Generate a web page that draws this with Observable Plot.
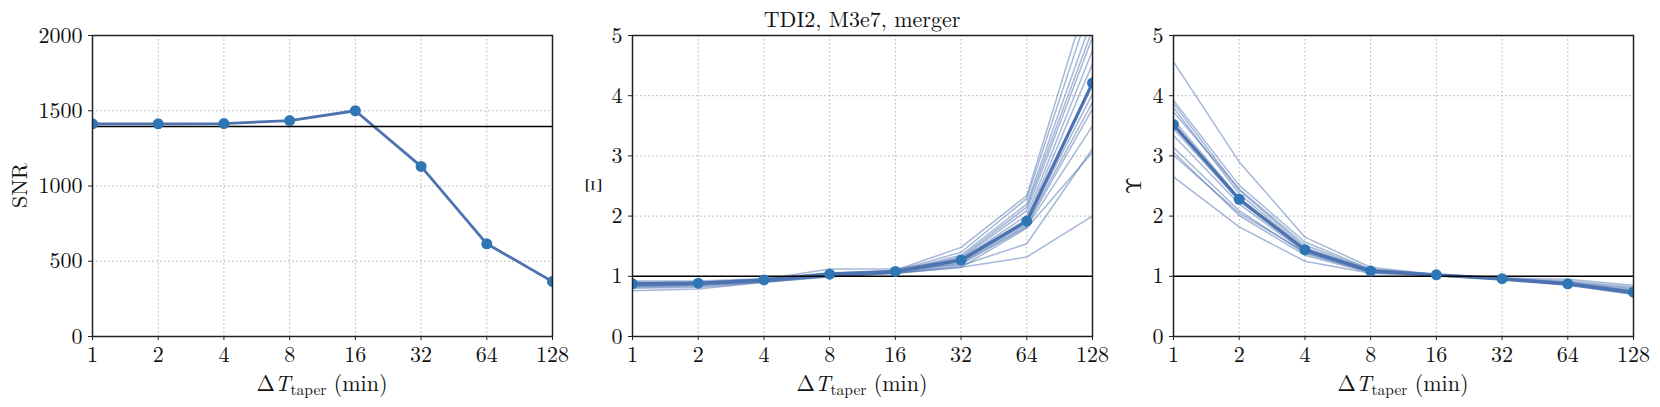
<!DOCTYPE html>
<html>
<head>
<meta charset="utf-8">
<script src="https://cdn.jsdelivr.net/npm/d3@7"></script>
<script src="https://cdn.jsdelivr.net/npm/@observablehq/plot@0.6"></script>
<style>
  html, body { margin: 0; padding: 0; background: #fff; }
  #wrap { position: relative; width: 1660px; height: 407px; overflow: hidden; }
  .panel { position: absolute; top: 0; }
</style>
</head>
<body>
<div id="wrap"></div>
<script>
// ---------- data ----------
const taper = [1, 2, 4, 8, 16, 32, 64, 128];
const snrTicks = [0, 500, 1000, 1500, 2000];
const ratioTicks = [0, 1, 2, 3, 4, 5];

const snr = [1413, 1413, 1415, 1435, 1500, 1130, 616, 365];
const snrRef = 1395;

const xiMain = [0.875, 0.885, 0.94, 1.035, 1.08, 1.27, 1.915, 4.21];
const xiRuns = [
  [0.90, 0.90, 0.95, 1.05, 1.10, 1.48, 2.34, 5.90],
  [0.88, 0.89, 0.94, 1.04, 1.09, 1.40, 2.29, 5.60],
  [0.87, 0.88, 0.93, 1.03, 1.08, 1.35, 2.20, 5.30],
  [0.86, 0.87, 0.93, 1.02, 1.07, 1.32, 2.15, 5.10],
  [0.85, 0.86, 0.92, 1.02, 1.07, 1.30, 2.09, 4.97],
  [0.89, 0.90, 0.95, 1.12, 1.12, 1.28, 2.01, 4.75],
  [0.92, 0.92, 0.96, 1.06, 1.09, 1.27, 1.95, 4.53],
  [0.84, 0.86, 0.92, 1.01, 1.06, 1.25, 1.90, 4.03],
  [0.86, 0.87, 0.93, 1.03, 1.07, 1.24, 1.87, 3.89],
  [0.83, 0.85, 0.91, 1.00, 1.06, 1.22, 1.84, 3.78],
  [0.87, 0.88, 0.94, 1.03, 1.08, 1.20, 1.82, 3.50],
  [0.80, 0.82, 0.90, 1.00, 1.05, 1.18, 1.54, 3.12],
  [0.76, 0.79, 0.90, 0.99, 1.05, 1.15, 1.80, 3.06],
  [0.82, 0.84, 0.91, 1.00, 1.05, 1.15, 1.32, 2.00]
];

const upsMain = [3.52, 2.28, 1.44, 1.09, 1.025, 0.96, 0.875, 0.735];
const upsRuns = [
  [4.56, 2.90, 1.65, 1.15, 1.03, 0.97, 0.95, 0.85],
  [3.92, 2.51, 1.57, 1.12, 1.03, 0.96, 0.92, 0.82],
  [3.87, 2.43, 1.48, 1.10, 1.02, 0.96, 0.90, 0.80],
  [3.80, 2.37, 1.45, 1.09, 1.02, 0.95, 0.89, 0.78],
  [3.73, 2.45, 1.52, 1.11, 1.03, 0.96, 0.90, 0.76],
  [3.60, 2.30, 1.44, 1.08, 1.02, 0.95, 0.88, 0.75],
  [3.45, 2.25, 1.42, 1.08, 1.02, 0.95, 0.87, 0.74],
  [3.34, 2.20, 1.40, 1.07, 1.02, 0.95, 0.87, 0.72],
  [3.14, 2.09, 1.38, 1.07, 1.02, 0.95, 0.86, 0.71],
  [3.06, 2.01, 1.35, 1.06, 1.01, 0.94, 0.86, 0.70],
  [3.01, 2.05, 1.40, 1.07, 1.02, 0.95, 0.87, 0.72],
  [2.65, 1.82, 1.25, 1.05, 1.01, 0.94, 0.85, 0.70]
];

const title = "TDI2, M3e7, merger";

// ---------- styling ----------
const FONT = "'Latin Modern Roman', 'Liberation Serif', serif";
const GREEK = "'Latin Modern Math', 'Latin Modern Roman', 'Liberation Serif', serif";
const FS = 22;
const BLUE = "#4C72B0";
const DOT = "#2f76b5";
const GRID = "#b0b0b0";

const toRows = (vals) => vals.map((v, i) => ({x: taper[i], y: v}));
const runRows = (runs) => runs.flatMap((r, k) => r.map((v, i) => ({x: taper[i], y: v, run: k})));

function panel({left, width, ml, mr, yDomain, yTicks, main, runs, ref, mainWidth, ylabel, ylabelX, ylabelFont, titleText}) {
  const H = 407, mt = 35, mb = 71;
  const marks = [
    Plot.gridX(taper, {stroke: GRID, strokeOpacity: 1, strokeWidth: 1, strokeDasharray: "1.5,2.5"}),
    Plot.gridY(yTicks, {stroke: GRID, strokeOpacity: 1, strokeWidth: 1, strokeDasharray: "1.5,2.5"})
  ];
  if (runs) marks.push(Plot.line(runRows(runs), {x: "x", y: "y", z: "run", stroke: BLUE, strokeOpacity: 0.5, strokeWidth: 1.5, clip: true}));
  marks.push(Plot.line(toRows(main), {x: "x", y: "y", stroke: BLUE, strokeWidth: mainWidth, clip: true}));
  marks.push(Plot.ruleY([ref], {stroke: "#000", strokeWidth: 1.5}));
  marks.push(Plot.dot(toRows(main), {x: "x", y: "y", r: 5.5, fill: DOT, stroke: "none", clip: true}));
  marks.push(Plot.frame({stroke: "#222", strokeWidth: 1.5}));
  marks.push(Plot.axisX(taper, {tickSize: 4, tickPadding: 6, tickFormat: d => String(d), label: null, stroke: "#222"}));
  marks.push(Plot.axisY(yTicks, {tickSize: 4, tickPadding: 6, tickFormat: d => String(d), label: null, stroke: "#222"}));

  const svg = Plot.plot({
    width, height: H,
    marginLeft: ml, marginRight: mr, marginTop: mt, marginBottom: mb,
    x: {type: "log", base: 2, domain: [1, 128]},
    y: {domain: yDomain},
    marks
  });

  const s = d3.select(svg);
  s.style("font-family", FONT).style("font-size", FS + "px")
   .style("background", "transparent").style("overflow", "visible").style("max-width", "none");
  s.selectAll("text").style("font-family", FONT).style("font-size", FS + "px").style("fill", "#111");
  const cx = (ml + width - mr) / 2;
  // x label: ΔT_taper (min)
  const xl = s.append("text")
    .attr("x", cx).attr("y", 391)
    .attr("text-anchor", "middle")
    .style("font-family", FONT).style("font-size", FS + "px").style("fill", "#111");
  xl.append("tspan").style("font-family", GREEK).text("Δ");
  xl.append("tspan").style("font-style", "italic").text("T");
  xl.append("tspan").style("font-size", "15.5px").attr("dy", 4).text("taper");
  xl.append("tspan").attr("dy", -4).text(" (min)");
  // y label
  s.append("text")
    .attr("transform", `translate(${ylabelX},${(35 + 336) / 2}) rotate(-90)`)
    .attr("text-anchor", "middle").attr("dy", "0.35em")
    .style("font-family", ylabelFont).style("font-size", FS + "px").style("fill", "#111")
    .text(ylabel);
  if (titleText) {
    s.append("text")
      .attr("x", cx).attr("y", 27)
      .attr("text-anchor", "middle")
      .style("font-family", FONT).style("font-size", FS + "px").style("fill", "#111")
      .text(titleText);
  }
  const div = document.createElement("div");
  div.className = "panel";
  div.style.left = left + "px";
  div.style.width = width + "px";
  div.appendChild(svg);
  document.getElementById("wrap").appendChild(div);
}

panel({left: 0, width: 580, ml: 92, mr: 28, yDomain: [0, 2000], yTicks: snrTicks,
       main: snr, runs: null, ref: snrRef, mainWidth: 2.8, ylabel: "SNR", ylabelX: 19.5, ylabelFont: FONT});
panel({left: 580, width: 540, ml: 52, mr: 28, yDomain: [0, 5], yTicks: ratioTicks,
       main: xiMain, runs: xiRuns, ref: 1, mainWidth: 3.2, ylabel: "Ξ", ylabelX: 13, ylabelFont: GREEK, titleText: title});
panel({left: 1120, width: 540, ml: 53, mr: 27, yDomain: [0, 5], yTicks: ratioTicks,
       main: upsMain, runs: upsRuns, ref: 1, mainWidth: 3.2, ylabel: "Υ", ylabelX: 13, ylabelFont: GREEK});
</script>
</body>
</html>
